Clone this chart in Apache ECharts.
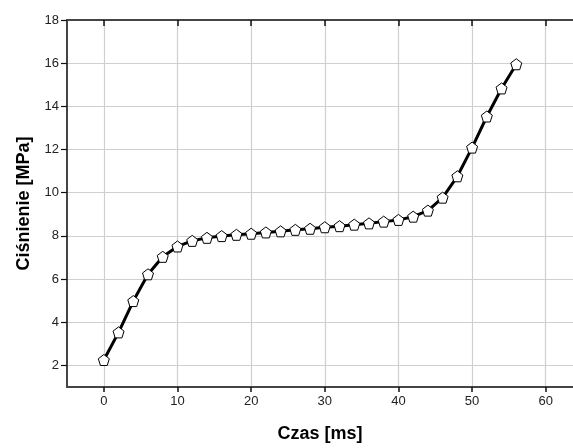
<!DOCTYPE html>
<html>
<head>
<meta charset="utf-8">
<script src="https://cdn.jsdelivr.net/npm/echarts@6/dist/echarts.min.js"></script>
<style>html,body{margin:0;padding:0;background:#fff}#c{width:573px;height:448px}</style>
</head>
<body>
<div id="c"></div>
<script>
const timeMs = [0,2,4,6,8,10,12,14,16,18,20,22,24,26,28,30,32,34,36,38,40,42,44,46,48,50,52,54,56];
const pressure = [2.25,3.53,4.98,6.22,7.03,7.51,7.77,7.91,7.99,8.05,8.1,8.16,8.21,8.28,8.33,8.4,8.45,8.52,8.58,8.66,8.74,8.89,9.17,9.77,10.76,12.09,13.53,14.83,15.95];
const xTicks = [0,10,20,30,40,50,60];
const yTicks = [2,4,6,8,10,12,14,16,18];

const chart = echarts.init(document.getElementById('c'), null, {renderer:'canvas'});
const pent = 'path://M0,-1 L0.951,-0.309 L0.588,0.809 L-0.588,0.809 L-0.951,-0.309 Z';
const font = 'Liberation Sans, Arial, sans-serif';
const axisCol = '#444';
chart.setOption({
  animation:false,
  backgroundColor:'#fff',
  grid:{left:67, top:20, right:0, bottom:56, containLabel:false},
  xAxis:[{
    type:'value', min:-5, max:63.7, position:'bottom',
    name:'Czas [ms]', nameLocation:'middle', nameGap:38,
    nameTextStyle:{fontFamily:font, fontSize:18, fontWeight:'bold', color:'#000'},
    axisLine:{show:true, onZero:false, lineStyle:{color:axisCol, width:2}},
    axisTick:{show:true, length:5, customValues:xTicks, lineStyle:{color:'#111', width:1.5}},
    axisLabel:{customValues:xTicks, fontFamily:font, fontSize:13, color:'#222', margin:8},
    splitLine:{show:true, lineStyle:{color:'#cfcfcf', width:1.2}}
  },{
    type:'value', min:-5, max:63.7, position:'top',
    axisLine:{show:true, onZero:false, lineStyle:{color:axisCol, width:2}},
    axisTick:{show:true, inside:true, length:6, customValues:xTicks, lineStyle:{color:'#111', width:1.5}},
    axisLabel:{show:false},
    splitLine:{show:false}
  }],
  yAxis:{
    type:'value', min:1, max:18,
    name:'Ciśnienie [MPa]', nameLocation:'middle', nameGap:34,
    nameTextStyle:{fontFamily:font, fontSize:18, fontWeight:'bold', color:'#000'},
    axisLine:{show:true, onZero:false, lineStyle:{color:axisCol, width:2}},
    axisTick:{show:true, length:6, customValues:yTicks, lineStyle:{color:'#111', width:1.2}},
    axisLabel:{customValues:yTicks, fontFamily:font, fontSize:13, color:'#222', margin:8},
    splitLine:{show:true, lineStyle:{color:'#cfcfcf', width:1.2}}
  },
  series:[{
    type:'line', xAxisIndex:0,
    data: timeMs.map((t,i)=>[t, pressure[i]]),
    lineStyle:{color:'#000', width:3},
    symbol:pent, symbolSize:11,
    itemStyle:{color:'#fff', borderColor:'#000', borderWidth:1},
    z:5
  }]
});
</script>
</body>
</html>
